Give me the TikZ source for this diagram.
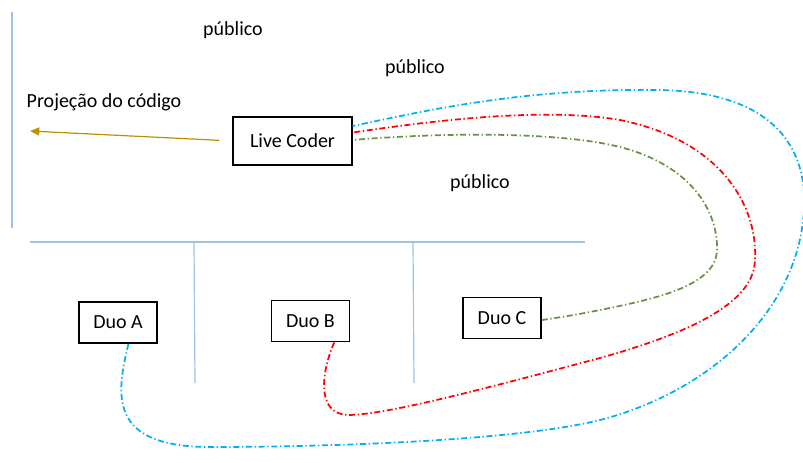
\documentclass[tikz,border=0pt]{standalone}
\usepackage{fontspec}
\setmainfont{Carlito}
\usepackage{tikz}
\usetikzlibrary{arrows.meta}
\usetikzlibrary{shapes,positioning}
\definecolor{stagegray}{HTML}{9DC3E6}
\definecolor{projgold}{HTML}{BF9000}
\definecolor{linkblue}{HTML}{00B0F0}
\definecolor{linkred}{HTML}{FF0000}
\definecolor{linkgreen}{HTML}{6A9042}

\begin{document}
\begin{tikzpicture}[x=0.75pt,y=-0.75pt,
    every node/.style={font=\fontsize{15}{18}\selectfont},
    player/.style={rectangle,draw,line width=1.1pt,inner sep=0pt},
    wall/.style={stagegray,line width=0.9pt},
    link/.style={line width=1.3pt,dash pattern=on 4.5pt off 2pt on 1pt off 2pt}]
  \useasboundingbox (0,0) rectangle (803,463);
  %%% stage walls
  \draw[wall] (12,12) -- (12,228);
  \draw[wall] (30,242) -- (585,242);
  \draw[wall] (194,243) -- (195,383);
  \draw[wall] (413,243) -- (414,383);
  %%% audience and projection
  \foreach \x/\y [count=\i] in {233/30,415/68,480/183}
    \node (pub_\i) at (\x,\y) {público};
  \node[anchor=west] (proj) at (22,102) {Projeção do código};
  \coordinate (screen) at (30,131);
  %%% players
  \node[player,minimum width=89pt,minimum height=36pt] (live) at (292.5,141) {Live Coder};
  \node[player,minimum width=58.5pt,minimum height=31pt] (duoA) at (118,322.5) {Duo A};
  \node[player,minimum width=58.5pt,minimum height=31pt] (duoB) at (310.5,321) {Duo B};
  \node[player,minimum width=58.5pt,minimum height=31pt] (duoC) at (502,318) {Duo C};
  \draw[projgold,line width=0.9pt,-{Triangle[length=7pt,width=6pt]},shorten <=10pt] (live.west) -- (screen);
  %%% links from each duo back to the live coder
  \draw[link,linkblue] (duoA.-64) .. controls (116,395) and (108,447) .. (210,447)
    .. controls (340,447) and (520,440) .. (600,420)
    .. controls (705,393) and (798,315) .. (804,210)
    .. controls (808,140) and (765,92) .. (660,90)
    .. controls (520,88) and (420,112) .. (live.14);
  \draw[link,linkred] (duoB.-42) .. controls (322,370) and (315,414) .. (348,415)
    .. controls (385,415) and (480,390) .. (600,358)
    .. controls (700,330) and (754,300) .. (755,260)
    .. controls (758,205) and (720,140) .. (620,120)
    .. controls (550,108) and (450,118) .. (live.8);
  \draw[link,linkgreen] (duoC.-3) .. controls (555,318) and (570,316) .. (600,310)
    .. controls (660,298) and (716,285) .. (717,250)
    .. controls (718,210) and (690,165) .. (620,147)
    .. controls (560,132) and (450,132) .. (live.1);
\end{tikzpicture}
\end{document}
